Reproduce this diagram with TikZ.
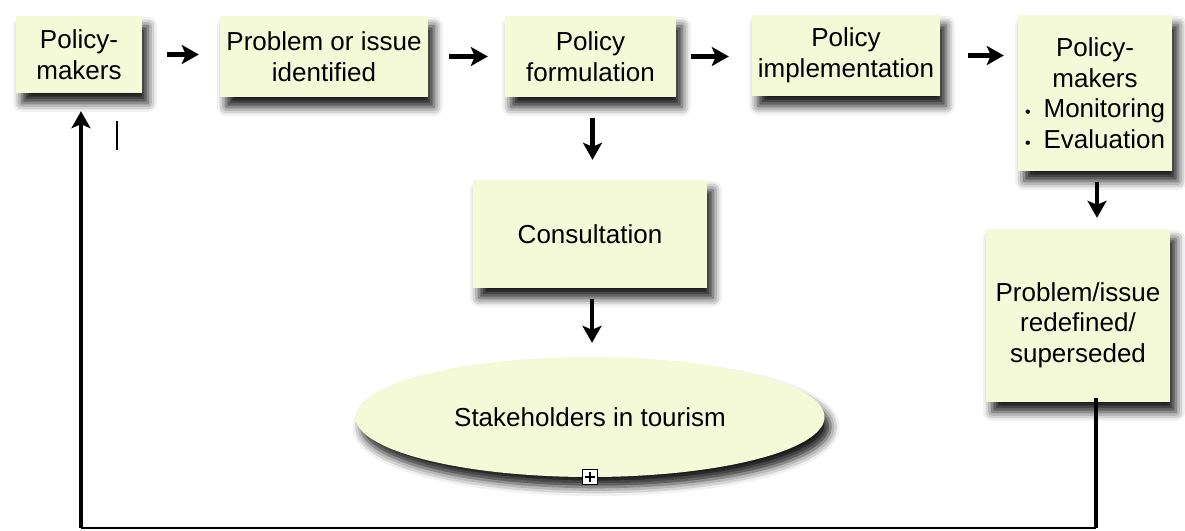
\documentclass[tikz,border=0pt]{standalone}
\usepackage{fontspec}
\setmainfont{Liberation Sans}
\usetikzlibrary{shapes.geometric,arrows.meta,shadows.blur}
\definecolor{boxfill}{RGB}{244,250,216}
\tikzset{
  box/.style={fill=boxfill, inner sep=0pt, align=center,
    font=\fontsize{26}{30.5}\selectfont,
    blur shadow={shadow xshift=6pt, shadow yshift=-10pt, shadow blur radius=9pt, shadow opacity=90}},
  arr/.style={line width=4.2pt, -{Stealth[length=17pt,width=19pt,inset=4pt]}},
  loopline/.style={line width=3.6pt, black}
}
\begin{document}
\begin{tikzpicture}[x=1pt,y=-1pt]
\useasboundingbox (0,0) rectangle (1185,530);
\node[box, minimum width=126pt, minimum height=77pt] (pm1) at (79,54.5) {Policy-\\makers};
\node[box, minimum width=208pt, minimum height=81pt] (prob) at (324,56.5) {Problem or issue\\identified};
\node[box, minimum width=171pt, minimum height=81pt] (form) at (590.5,56.5) {Policy\\formulation};
\node[box, minimum width=188pt, minimum height=81pt] (impl) at (846,55.5) {Policy\\implementation};
\node[box, minimum width=154pt, minimum height=156pt] (pm2) at (1095,93) {Policy-\\makers\\{\fontsize{16}{20}\selectfont\textbullet}\enspace Monitoring\\{\fontsize{16}{20}\selectfont\textbullet}\enspace Evaluation};
\node[box, minimum width=184pt, minimum height=173pt] (redef) at (1078,315.5) {\rule{0pt}{38pt}Problem/issue\\redefined/\\superseded};
\node[box, minimum width=234pt, minimum height=108pt] (cons) at (590,234) {Consultation};
\node[box, ellipse, minimum width=469pt, minimum height=120pt] (stake) at (590,417) {Stakeholders in tourism};
\node[draw=black, line width=1.2pt, fill=white, minimum size=15pt, inner sep=0pt] (expand) at (590,477) {};
\draw[line width=1.2pt] ([yshift=-5pt]expand.center) -- ([yshift=5pt]expand.center)
  ([xshift=-5pt]expand.center) -- ([xshift=5pt]expand.center);
% horizontal arrows
\draw[arr, shorten <=25pt, shorten >=21pt] (pm1.east) -- (pm1.east -| prob.west);
\draw[arr, shorten <=21pt, shorten >=17pt] (prob.east |- form.east) -- (form.east -| form.west);
\draw[arr, shorten <=15pt, shorten >=23pt] (form.east) -- (form.east -| impl.west);
\draw[arr, shorten <=28pt, shorten >=14pt] (impl.east) -- (impl.east -| pm2.west);
% vertical arrows
\draw[arr, shorten <=21pt, shorten >=20pt] ([xshift=2pt]form.south) -- ([xshift=2pt]form.south |- cons.north);
\draw[arr, shorten <=11pt, shorten >=14pt] ([xshift=2pt]cons.south) -- ([xshift=2pt]cons.south |- stake.north);
\draw[arr, shorten <=11pt, shorten >=11pt] ([xshift=2pt]pm2.south) -- ([xshift=2pt]pm2.south |- redef.north);
% feedback loop
\coordinate (c1) at (1096,528);
\coordinate (c2) at (81,528);
\draw[loopline] ([yshift=4pt]redef.south -| c1) -- (c1);
\draw[line width=2.4pt] (c1) -- (c2);
\draw[arr, shorten >=18pt] (c2) -- (c2 |- pm1.south);
% stray mark
\coordinate (m1) at (117,121);
\coordinate (m2) at (117,150);
\draw[line width=1.5pt] (m1) -- (m2);
\end{tikzpicture}
\end{document}
